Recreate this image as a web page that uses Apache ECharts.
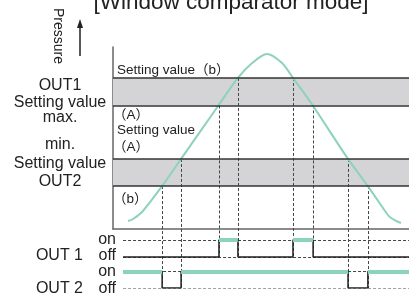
<!DOCTYPE html>
<html>
<head>
  <meta charset="UTF-8">
  <title>Window comparator mode</title>
  <style>
    html, body { margin: 0; padding: 0; background: #fff; }
    #chart { width: 409px; height: 298px; }
  </style>
  <script src="https://cdn.jsdelivr.net/npm/echarts@6.0.0/dist/echarts.min.js"></script>
</head>
<body>
<div id="chart"></div>
<script>
  // time runs 0..100 across the plot, pressure 0..100 bottom to top
  var pressureCurve = [
    [5.1, 4.4], [6.8, 5.5], [10.1, 9.9], [16.6, 23.6], [23.0, 38.5],
    [35.5, 67.6], [42.2, 83.0], [47.0, 91.2], [52.0, 96.2], [57.1, 91.2],
    [60.8, 83.0], [67.6, 67.6], [79.4, 38.5], [86.1, 23.6], [90.5, 13.2],
    [93.2, 7.1], [95.6, 4.4], [97.3, 3.3]
  ];
  var out1SetB = 83.0, out1SetA = 67.9;   // OUT1 setting value max. (b) / (A)
  var out2SetA = 38.5, out2SetB = 23.6;   // OUT2 setting value min. (A) / (b)
  var out1Times = [35.8, 42.2, 60.8, 67.6];
  var out1Levels = [out1SetA, out1SetB, out1SetB, out1SetA];
  var out2Times = [16.6, 23.0, 79.4, 86.1];
  var out2Levels = [out2SetB, out2SetA, out2SetA, out2SetB];
  var out1Initial = 0, out2Initial = 1;   // 0 = off, 1 = on
  var timeStart = 3.4, timeEnd = 100;

  // layout: where the on/off rows sit on the extended pressure scale
  var rowLevel = { out1: [-15.4, -6.0], out2: [-32.4, -23.4] };

  var teal = '#8dd3bb';
  var ink = '#222';
  var font = '"Liberation Sans", "Noto Sans CJK JP", sans-serif';

  function stepPoints(times, initial, row) {
    var s = initial;
    var pts = [[timeStart, rowLevel[row][s]]];
    times.forEach(function (t) {
      pts.push([t, rowLevel[row][s]]);
      s = 1 - s;
      pts.push([t, rowLevel[row][s]]);
    });
    pts.push([timeEnd, rowLevel[row][s]]);
    return pts;
  }

  function onSegments(times, initial, row) {
    var edges = [timeStart].concat(times, [timeEnd]);
    var segs = [];
    var s = initial;
    for (var i = 0; i < edges.length - 1; i++) {
      if (s === 1) segs.push({coords: [[edges[i], rowLevel[row][1]], [edges[i + 1], rowLevel[row][1]]]});
      s = 1 - s;
    }
    return segs;
  }

  function guideLines() {
    var segs = [];
    ['out1', 'out2'].forEach(function (row) {
      rowLevel[row].forEach(function (y) {
        segs.push({coords: [[timeStart, y], [timeEnd, y]]});
      });
    });
    out1Times.forEach(function (t, i) {
      segs.push({coords: [[t, out1Levels[i]], [t, rowLevel.out1[0]]]});
    });
    out2Times.forEach(function (t, i) {
      segs.push({coords: [[t, out2Levels[i]], [t, rowLevel.out2[0]]]});
    });
    return segs;
  }

  function txt(text, x, y, size, align) {
    return {
      type: 'text', z: 50,
      style: {
        text: text, x: x, y: y, fill: '#222',
        font: size + 'px ' + font,
        align: align || 'left', verticalAlign: 'middle'
      }
    };
  }

  var bandStyle = {color: '#d4d4d6'};
  var edgeLine = {color: '#333', width: 1.5, type: 'solid'};

  var chart = echarts.init(document.getElementById('chart'));
  chart.setOption({
    backgroundColor: '#fff',
    animation: false,
    grid: [
      {left: 113, right: 0, top: 47, bottom: 69},
      {left: 113, right: 0, top: 47, bottom: 10}
    ],
    xAxis: [
      {gridIndex: 0, type: 'value', min: 0, max: 100,
        axisLine: {lineStyle: {color: '#666', width: 1.5}},
        axisTick: {show: false}, axisLabel: {show: false}, splitLine: {show: false}},
      {gridIndex: 1, type: 'value', min: 0, max: 100, show: false}
    ],
    yAxis: [
      {gridIndex: 0, type: 'value', min: 0, max: 100,
        axisLine: {show: true, lineStyle: {color: '#666', width: 1.5}},
        axisTick: {show: false}, axisLabel: {show: false}, splitLine: {show: false}},
      {gridIndex: 1, type: 'value', min: rowLevel.out2[0], max: 100, show: false}
    ],
    series: [
      {
        type: 'line', xAxisIndex: 0, yAxisIndex: 0, data: [],
        markArea: {
          silent: true, itemStyle: bandStyle,
          data: [
            [{yAxis: out1SetA}, {yAxis: out1SetB}],
            [{yAxis: out2SetB}, {yAxis: out2SetA}]
          ]
        },
        markLine: {
          silent: true, symbol: 'none', label: {show: false},
          lineStyle: edgeLine,
          data: [{yAxis: out1SetB}, {yAxis: out1SetA}, {yAxis: out2SetA}, {yAxis: out2SetB}]
        }
      },
      {
        type: 'lines', coordinateSystem: 'cartesian2d', xAxisIndex: 1, yAxisIndex: 1,
        z: 3, silent: true,
        lineStyle: {color: '#444', width: 1, type: [3, 2], opacity: 1},
        data: guideLines()
      },
      {
        type: 'line', xAxisIndex: 0, yAxisIndex: 0, smooth: 0.3,
        symbol: 'none', z: 4,
        lineStyle: {color: teal, width: 2},
        data: pressureCurve
      },
      {
        type: 'line', xAxisIndex: 1, yAxisIndex: 1, symbol: 'none', z: 5,
        lineStyle: {color: ink, width: 1.5},
        data: stepPoints(out1Times, out1Initial, 'out1')
      },
      {
        type: 'line', xAxisIndex: 1, yAxisIndex: 1, symbol: 'none', z: 5,
        lineStyle: {color: ink, width: 1.5},
        data: stepPoints(out2Times, out2Initial, 'out2')
      },
      {
        type: 'lines', coordinateSystem: 'cartesian2d', xAxisIndex: 1, yAxisIndex: 1,
        z: 6, silent: true,
        lineStyle: {color: teal, width: 4, opacity: 1},
        data: onSegments(out1Times, out1Initial, 'out1').concat(onSegments(out2Times, out2Initial, 'out2'))
      }
    ],
    graphic: [
      txt('[Window comparator mode]', 231, 3, 22.5, 'center'),
      {
        type: 'text', z: 50, x: 58, y: 36, rotation: -Math.PI / 2,
        style: {text: 'Pressure', fill: '#222', font: '14px ' + font, align: 'center', verticalAlign: 'middle'}
      },
      {type: 'line', z: 50, shape: {x1: 80, y1: 56, x2: 80, y2: 26}, style: {stroke: '#222', lineWidth: 1.5}},
      {type: 'polygon', z: 50, shape: {points: [[80, 19], [77, 28], [83, 28]]}, style: {fill: '#222'}},
      txt('OUT1', 60, 86, 16, 'center'),
      txt('Setting value', 60, 103, 16, 'center'),
      txt('max.', 60, 118, 16, 'center'),
      txt('min.', 60, 145, 16, 'center'),
      txt('Setting value', 60, 164, 16, 'center'),
      txt('OUT2', 60, 182, 16, 'center'),
      txt('Setting value（b）', 117, 70, 13.5),
      txt('（A）', 113, 115, 13.5),
      txt('Setting value', 117, 130, 13.5),
      txt('（A）', 113, 147, 13.5),
      txt('（b）', 113, 199, 13.5),
      txt('on', 116, 240, 16, 'right'),
      txt('OUT 1', 83, 256, 16, 'right'),
      txt('off', 116, 256, 16, 'right'),
      txt('on', 116, 272, 16, 'right'),
      txt('OUT 2', 83, 289, 16, 'right'),
      txt('off', 116, 289, 16, 'right')
    ]
  });
</script>
</body>
</html>
